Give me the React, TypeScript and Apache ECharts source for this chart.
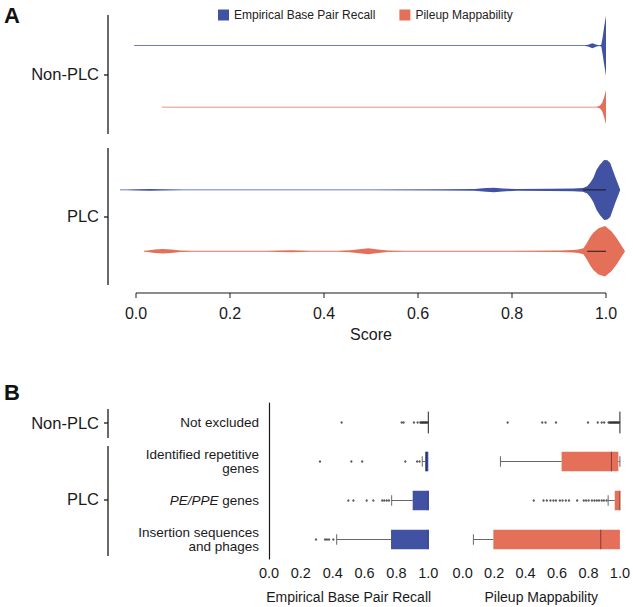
import React, { useEffect, useRef } from "react";
import * as echarts from "echarts";

const FONT = "'Liberation Sans', Arial, Helvetica, sans-serif";
const BLUE = "#4152A2";
const ORANGE = "#E4705A";
const INK = "#1a1a1a";

const SERIES_NAMES = ["Empirical Base Pair Recall", "Pileup Mappability"];
const VIOLIN_GROUPS = ["Non-PLC", "PLC"];
const SCORE_TICKS = [0, 0.2, 0.4, 0.6, 0.8, 1.0];

// Violin density profiles: [score, relative half-width]
const recallNonPLC: number[][] = [
  [-0.004, 0], [0.0, 0.012], [0.955, 0.012],
  [0.962, 0.03], [0.971, 0.085], [0.98, 0.03], [0.986, 0.012], [0.99, 0.03],
  [0.993, 0.3], [0.996, 0.62], [1.0, 1.0],
];
const mappNonPLC: number[][] = [
  [0.055, 0], [0.06, 0.012], [0.98, 0.012], [0.987, 0.04],
  [0.992, 0.15], [0.996, 0.33], [1.0, 0.57],
];
const recallPLC: number[][] = [
  [-0.034, 0], [-0.02, 0.012], [0.0, 0.022], [0.03, 0.028], [0.06, 0.018], [0.1, 0.012],
  [0.3, 0.012], [0.5, 0.014], [0.65, 0.018], [0.72, 0.03], [0.745, 0.06], [0.762, 0.075],
  [0.78, 0.05], [0.81, 0.03], [0.88, 0.035], [0.93, 0.045], [0.951, 0.06], [0.96, 0.12],
  [0.966, 0.23], [0.973, 0.4], [0.98, 0.67], [0.987, 0.84], [0.996, 1.0], [1.003, 0.99],
  [1.009, 0.9], [1.019, 0.46], [1.026, 0.18], [1.03, 0],
];
const mappPLC: number[][] = [
  [0.017, 0], [0.025, 0.025], [0.04, 0.06], [0.057, 0.077], [0.075, 0.055], [0.095, 0.025],
  [0.12, 0.014], [0.17, 0.02], [0.21, 0.014], [0.28, 0.012], [0.33, 0.035], [0.37, 0.014],
  [0.43, 0.012], [0.455, 0.03], [0.475, 0.07], [0.494, 0.1], [0.515, 0.06], [0.536, 0.025],
  [0.57, 0.012], [0.72, 0.014], [0.8, 0.02], [0.9, 0.025], [0.93, 0.04], [0.941, 0.06],
  [0.952, 0.1], [0.959, 0.27], [0.966, 0.47], [0.973, 0.62], [0.984, 0.77], [0.998, 0.84],
  [1.012, 0.66], [1.023, 0.43], [1.034, 0.16], [1.04, 0],
];
// inner quartile line of each violin [from, to]
const recallInner: (number[] | null)[] = [null, [0.951, 1.0]];
const mappInner: (number[] | null)[] = [null, [0.96, 1.0]];

// Panel B
const CATEGORIES = [
  "Not excluded",
  "Identified repetitive\ngenes",
  "PE/PPE genes",
  "Insertion sequences\nand phages",
];
// [lowWhisker, q1, median, q3, highWhisker]
const recallBoxes: number[][] = [
  [1.0, 1.0, 1.0, 1.0, 1.0],
  [0.962, 0.98, 0.99, 1.0, 1.0],
  [0.77, 0.902, 1.0, 1.0, 1.0],
  [0.425, 0.766, 1.0, 1.0, 1.0],
];
const mappBoxes: number[][] = [
  [1.0, 1.0, 1.0, 1.0, 1.0],
  [0.24, 0.629, 0.946, 0.99, 1.0],
  [0.925, 0.967, 1.0, 1.0, 1.0],
  [0.068, 0.195, 0.878, 1.0, 1.0],
];
const recallOutliers: number[][] = [
  [0.456, 0.833, 0.845, 0.91, 0.933, 0.95, 0.955, 0.96, 0.965, 0.97, 0.975, 0.98, 0.985, 0.99, 0.995],
  [0.32, 0.517, 0.585, 0.856, 0.93, 0.945],
  [0.498, 0.53, 0.613, 0.655, 0.711, 0.724, 0.739, 0.753],
  [0.295, 0.352, 0.364, 0.377, 0.404],
];
const mappOutliers: number[][] = [
  [0.286, 0.506, 0.527, 0.593, 0.797, 0.859, 0.884, 0.9, 0.928, 0.935, 0.94, 0.945, 0.95, 0.955,
    0.96, 0.965, 0.97, 0.975, 0.98, 0.985, 0.99, 0.995],
  [],
  [0.452, 0.514, 0.535, 0.558, 0.577, 0.593, 0.618, 0.635, 0.656, 0.676, 0.728, 0.77, 0.785,
    0.801, 0.822, 0.838, 0.853, 0.867, 0.884, 0.898, 0.915],
  [],
];

// layout constants
const ROW_Y = [0, 1, 2.35, 3.35]; // violin row positions (row units)
const HALF = 0.489; // row units for relative density 1
const MIN_HALF_PX = 0.4;
const A_LEFT = 136;
const A_RIGHT = 606;
const SCORE_AXIS_Y = 293;

const makeViolinRender = (profiles: number[][][], inners: (number[] | null)[], color: string) =>
  (params: any, api: any) => {
    const prof = profiles[params.dataIndex];
    const row = api.value(1);
    const unit = api.size([0, 1])[1];
    const yc = api.coord([0, row])[1];
    const hw = (d: number) => Math.max(d * HALF * unit, MIN_HALF_PX);
    const top = prof.map(([s, d]) => [api.coord([s, row])[0], yc - hw(d)]);
    const bottom = prof.slice().reverse().map(([s, d]) => [api.coord([s, row])[0], yc + hw(d)]);
    const children: any[] = [
      { type: "polygon", shape: { points: top.concat(bottom) }, style: { fill: color } },
    ];
    const inner = inners[params.dataIndex];
    if (inner) {
      children.push({
        type: "line",
        shape: { x1: api.coord([inner[0], row])[0], y1: yc, x2: api.coord([inner[1], row])[0], y2: yc },
        style: { stroke: INK, lineWidth: 1 },
      });
    }
    return { type: "group", children };
  };

const makeBoxRender = (color: string, medColor: string) => (params: any, api: any) => {
  const cat = api.value(0);
  const lo = api.value(1), q1 = api.value(2), med = api.value(3), q3 = api.value(4), hi = api.value(5);
  const yc = api.coord([0, cat])[1];
  const band = api.size([0, 1])[1];
  const bh = band * 0.5;
  const ch = band * 0.27;
  const X = (v: number) => api.coord([v, cat])[0];
  const wStyle = { stroke: "#666", lineWidth: 1 };
  const children: any[] = [];
  if (lo < q1) {
    children.push({ type: "line", shape: { x1: X(lo), y1: yc, x2: X(q1), y2: yc }, style: wStyle });
    children.push({ type: "line", shape: { x1: X(lo), y1: yc - ch / 2, x2: X(lo), y2: yc + ch / 2 }, style: wStyle });
  }
  if (hi > q3) {
    children.push({ type: "line", shape: { x1: X(q3), y1: yc, x2: X(hi), y2: yc }, style: wStyle });
    children.push({ type: "line", shape: { x1: X(hi), y1: yc - ch / 2, x2: X(hi), y2: yc + ch / 2 }, style: wStyle });
  }
  if (q3 > q1) {
    children.push({ type: "rect", shape: { x: X(q1), y: yc - bh / 2, width: X(q3) - X(q1), height: bh }, style: { fill: color } });
  }
  const collapsed = q3 <= q1;
  children.push({
    type: "line",
    shape: { x1: X(med), y1: yc - (collapsed ? bh * 0.56 : bh / 2), x2: X(med), y2: yc + (collapsed ? bh * 0.56 : bh / 2) },
    style: { stroke: collapsed ? "#222" : medColor, lineWidth: 1 },
  });
  return { type: "group", children };
};

const flattenOutliers = (rows: number[][]) => {
  const out: number[][] = [];
  rows.forEach((vals, i) => vals.forEach((v) => out.push([v, i])));
  return out;
};

export default function App() {
  const ref = useRef<HTMLDivElement>(null);
  useEffect(() => {
    document.body.style.margin = "0";
    if (!ref.current) return;
    const chart = echarts.init(ref.current, undefined, { renderer: "svg" });
    const tick = (v: number) => v.toFixed(1);
    const seg = (x1: number, y1: number, x2: number, y2: number, w = 1.3) => ({
      type: "line",
      shape: { x1, y1, x2, y2 },
      style: { stroke: INK, lineWidth: w },
    });
    const label = (text: string, y: number) => ({
      type: "text",
      x: 99,
      y,
      style: { text, align: "right", verticalAlign: "middle", fontSize: 16.5, fontFamily: FONT, fill: INK },
    });
    const scoreX = (t: number) => A_LEFT + t * (A_RIGHT - A_LEFT);
    const scoreAxis: any[] = [seg(A_LEFT, SCORE_AXIS_Y, A_RIGHT, SCORE_AXIS_Y, 1.2)].concat(
      SCORE_TICKS.map((t) => seg(scoreX(t), SCORE_AXIS_Y, scoreX(t), SCORE_AXIS_Y + 5, 1))
    );
    const graphicEls: any[] = [
      { type: "text", x: 4, y: 4, style: { text: "A", fontSize: 22, fontWeight: "bold", fontFamily: FONT, fill: "#111" } },
      { type: "text", x: 4, y: 381, style: { text: "B", fontSize: 22, fontWeight: "bold", fontFamily: FONT, fill: "#111" } },
      seg(108, 15, 108, 134),
      seg(108, 148, 108, 285),
      seg(104, 75, 108, 75),
      seg(104, 217, 108, 217),
      label(VIOLIN_GROUPS[0], 74),
      label(VIOLIN_GROUPS[1], 216),
      seg(108, 409, 108, 438),
      seg(108, 446, 108, 556),
      seg(104, 423, 108, 423),
      seg(104, 500, 108, 500),
      label(VIOLIN_GROUPS[0], 422.5),
      label(VIOLIN_GROUPS[1], 499),
      ...scoreAxis,
    ];
    const option: any = {
      animation: false,
      textStyle: { fontFamily: FONT },
      legend: {
        data: SERIES_NAMES,
        left: 213,
        top: 4,
        icon: "rect",
        itemWidth: 11,
        itemHeight: 11,
        itemGap: 24,
        textStyle: { fontSize: 12, color: "#222", fontFamily: FONT },
      },
      grid: [
        { left: A_LEFT, right: 633 - A_RIGHT, top: 15, height: 278 },
        { left: 269, width: 159.3, top: 403, height: 156 },
        { left: 462.7, width: 160.6, top: 403, height: 156 },
        { left: A_LEFT, right: 633 - A_RIGHT, top: 283, height: 10 },
      ],
      xAxis: [
        { gridIndex: 0, type: "value", min: 0, max: 1, interval: 0.2, show: false },
        {
          gridIndex: 1, type: "value", min: 0, max: 1, interval: 0.2,
          axisLine: { onZero: false, lineStyle: { color: INK, width: 1.2 } },
          axisTick: { length: 4, lineStyle: { color: INK } },
          splitLine: { show: false },
          axisLabel: { fontSize: 14.5, color: INK, margin: 6, formatter: tick },
          name: "Empirical Base Pair Recall", nameLocation: "middle", nameGap: 31,
          nameTextStyle: { fontSize: 14, color: INK },
        },
        {
          gridIndex: 2, type: "value", min: 0, max: 1, interval: 0.2,
          axisLine: { onZero: false, lineStyle: { color: INK, width: 1.2 } },
          axisTick: { length: 4, lineStyle: { color: INK } },
          splitLine: { show: false },
          axisLabel: { fontSize: 14.5, color: INK, margin: 6, formatter: tick },
          name: "Pileup Mappability", nameLocation: "middle", nameGap: 31,
          nameTextStyle: { fontSize: 14, color: INK },
        },
        {
          gridIndex: 3, type: "value", min: 0, max: 1, interval: 0.2,
          axisLine: { onZero: false, lineStyle: { color: INK, width: 1.2 } },
          axisTick: { length: 5, lineStyle: { color: INK } },
          splitLine: { show: false },
          axisLabel: { fontSize: 16, color: INK, margin: 12, formatter: tick },
          name: "Score", nameLocation: "middle", nameGap: 33,
          nameTextStyle: { fontSize: 16, color: INK },
        },
      ],
      yAxis: [
        { gridIndex: 0, type: "value", min: -0.5, max: 4.03, inverse: true, show: false },
        {
          gridIndex: 1, type: "category", data: CATEGORIES, inverse: true,
          axisLine: { lineStyle: { color: INK, width: 1.2 } },
          axisTick: { alignWithLabel: true, length: 4, lineStyle: { color: INK } },
          axisLabel: {
            fontSize: 13.5, color: INK, margin: 10, lineHeight: 13.5, align: "right",
            formatter: (v: string) => (v.startsWith("PE/PPE") ? "{i|PE/PPE}" + v.slice(6) : v),
            rich: { i: { fontStyle: "italic", fontSize: 13.5, color: INK, fontFamily: FONT } },
          },
          splitLine: { show: false },
        },
        {
          gridIndex: 2, type: "category", data: CATEGORIES, inverse: true,
          axisLine: { show: false }, axisTick: { show: false }, axisLabel: { show: false },
          splitLine: { show: false },
        },
        {
          gridIndex: 3, type: "category", data: ["Score"],
          axisLine: { show: false }, axisTick: { show: false }, axisLabel: { show: false },
          splitLine: { show: false },
        },
      ],
      series: [
        {
          type: "custom", name: SERIES_NAMES[0], xAxisIndex: 0, yAxisIndex: 0, clip: false,
          itemStyle: { color: BLUE },
          encode: { x: 0, y: 1 },
          data: [[0, ROW_Y[0]], [0, ROW_Y[2]]],
          renderItem: makeViolinRender([recallNonPLC, recallPLC], recallInner, BLUE),
        },
        {
          type: "custom", name: SERIES_NAMES[1], xAxisIndex: 0, yAxisIndex: 0, clip: false,
          itemStyle: { color: ORANGE },
          encode: { x: 0, y: 1 },
          data: [[0, ROW_Y[1]], [0, ROW_Y[3]]],
          renderItem: makeViolinRender([mappNonPLC, mappPLC], mappInner, ORANGE),
        },
        {
          type: "custom", name: "Recall box", xAxisIndex: 1, yAxisIndex: 1, clip: false,
          itemStyle: { color: BLUE },
          encode: { y: 0, x: [1, 2, 3, 4, 5] },
          data: recallBoxes.map((b, i) => [i, ...b]),
          renderItem: makeBoxRender(BLUE, "#24306e"),
        },
        {
          type: "custom", name: "Mappability box", xAxisIndex: 2, yAxisIndex: 2, clip: false,
          itemStyle: { color: ORANGE },
          encode: { y: 0, x: [1, 2, 3, 4, 5] },
          data: mappBoxes.map((b, i) => [i, ...b]),
          renderItem: makeBoxRender(ORANGE, "#8a3a2c"),
        },
        {
          type: "scatter", name: "Recall outliers", xAxisIndex: 1, yAxisIndex: 1,
          symbol: "circle", symbolSize: 2.4, itemStyle: { color: "#333" },
          data: flattenOutliers(recallOutliers), z: 3,
        },
        {
          type: "scatter", name: "Mappability outliers", xAxisIndex: 2, yAxisIndex: 2,
          symbol: "circle", symbolSize: 2.4, itemStyle: { color: "#333" },
          data: flattenOutliers(mappOutliers), z: 3,
        },
      ],
      graphic: { elements: graphicEls },
    };
    chart.setOption(option);
    return () => chart.dispose();
  }, []);
  return <div ref={ref} style={{ width: 633, height: 607 }} />;
}
